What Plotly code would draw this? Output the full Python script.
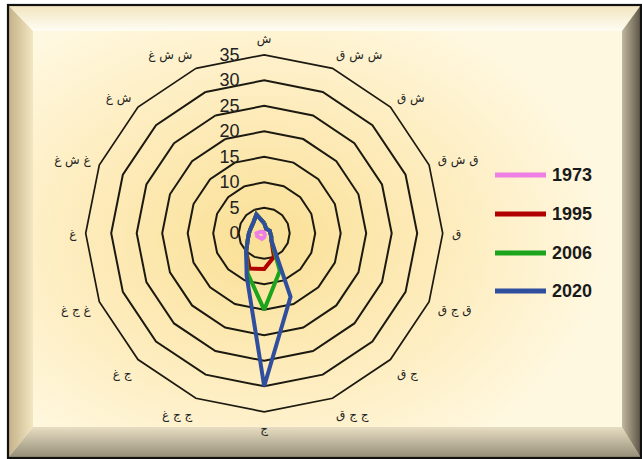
import base64
import plotly.graph_objects as go

# Sixteen compass directions (N first, clockwise)
directions = ["ش", "ش ش ق", "ش ق", "ق ش ق", "ق", "ق ج ق", "ج ق", "ج ج ق",
              "ج", "ج ج غ", "ج غ", "غ ج غ", "غ", "غ ش غ", "ش غ", "ش ش غ"]

years = ["1973", "1995", "2006", "2020"]
v1973 = [0, 0, 0, 0, 0, 0, 0, 0.3, 0.8, 1.2, 1.2, 1.5, 1.5, 0.8, 0.4, 0.3]
v1995 = [2, 1, 1, 1.2, 1.2, 1.5, 2, 5, 7, 7.5, 5, 3.5, 3, 2.8, 3, 4]
v2006 = [2, 1, 1, 1.2, 1.2, 1.5, 2, 8, 15, 8.5, 5, 3.5, 3, 2.8, 3, 4]
v2020 = [2, 1, 1, 1.2, 1.2, 1.5, 2, 13.5, 30, 9, 5, 3.5, 3, 2.8, 3, 4]
series = [v1973, v1995, v2006, v2020]
colors = ["#EE7FE4", "#B00000", "#1CA41C", "#2F4E9E"]

radial_ticks = [0, 5, 10, 15, 20, 25, 30, 35]

W, H = 642, 459
CX, CY, R = 264.2, 233.3, 178.5

# Bevelled parchment frame as an SVG background
svg = f"""<svg xmlns='http://www.w3.org/2000/svg' width='{W}' height='{H}' viewBox='0 0 {W} {H}'>
<defs>
<radialGradient id='bg' gradientUnits='userSpaceOnUse' cx='262' cy='240' r='300'
 gradientTransform='translate(262 240) scale(1.15 0.85) translate(-262 -240)'>
<stop offset='0' stop-color='#FAE095'/>
<stop offset='0.5' stop-color='#FDEBBA'/>
<stop offset='1' stop-color='#FFF8E0'/>
</radialGradient>
<linearGradient id='top' x1='0' y1='0' x2='0' y2='1'>
<stop offset='0' stop-color='#F1E4BE'/><stop offset='1' stop-color='#FFFDF4'/>
</linearGradient>
<linearGradient id='left' x1='0' y1='0' x2='1' y2='0'>
<stop offset='0' stop-color='#C2B087'/><stop offset='1' stop-color='#F3E6C0'/>
</linearGradient>
<linearGradient id='bot' x1='0' y1='0' x2='0' y2='1'>
<stop offset='0' stop-color='#E6DDC2'/><stop offset='1' stop-color='#958C77'/>
</linearGradient>
<linearGradient id='right' x1='0' y1='0' x2='1' y2='0'>
<stop offset='0' stop-color='#C2B89E'/><stop offset='1' stop-color='#5A5244'/>
</linearGradient>
</defs>
<rect x='0' y='0' width='{W}' height='{H}' fill='#FFFFFF'/>
<rect x='8' y='5' width='633' height='453' fill='url(#bg)'/>
<polygon points='8,5 641,5 622,31 33,31' fill='url(#top)'/>
<polygon points='8,5 33,31 33,427 8,458' fill='url(#left)'/>
<polygon points='8,458 33,427 622,427 641,458' fill='url(#bot)'/>
<polygon points='641,5 622,31 622,427 641,458' fill='url(#right)'/>
<rect x='8' y='5' width='633' height='453' fill='none' stroke='#111111' stroke-width='2.2'/>
</svg>"""
bg_uri = "data:image/svg+xml;base64," + base64.b64encode(svg.encode("utf-8")).decode("ascii")

fig = go.Figure()
for name, vals, col in zip(years, series, colors):
    fig.add_trace(go.Scatterpolar(
        r=vals + vals[:1],
        theta=directions + directions[:1],
        mode="lines",
        name=name,
        line=dict(color=col, width=4),
        showlegend=False,
    ))

grid = "#1C1A10"
fig.update_layout(
    width=W, height=H,
    margin=dict(l=0, r=0, t=0, b=0),
    paper_bgcolor="rgba(0,0,0,0)",
    plot_bgcolor="rgba(0,0,0,0)",
    images=[dict(source=bg_uri, xref="paper", yref="paper", x=0, y=1,
                 sizex=1, sizey=1, xanchor="left", yanchor="top",
                 sizing="stretch", layer="below")],
    polar=dict(
        domain=dict(x=[(CX - R) / W, (CX + R) / W],
                    y=[(H - CY - R) / H, (H - CY + R) / H]),
        bgcolor="rgba(0,0,0,0)",
        gridshape="linear",
        angularaxis=dict(
            type="category", categoryorder="array", categoryarray=directions,
            direction="clockwise", rotation=90,
            showgrid=False, showline=True, linecolor=grid, linewidth=1.7,
            ticks="outside", ticklen=6, tickcolor="rgba(0,0,0,0)",
            tickfont=dict(size=12, family="DejaVu Sans", color="#222222"),
        ),
        radialaxis=dict(
            range=[0, 35], tickmode="array", tickvals=radial_ticks,
            angle=90, tickangle=90, side="counterclockwise",
            showline=False, gridcolor=grid, gridwidth=1.7,
            ticks="outside", ticklen=18, tickcolor="rgba(0,0,0,0)",
            tickfont=dict(size=18, family="Liberation Sans", color="#222222"),
        ),
    ),
)

# Legend: line swatch + year label, one row per series
leg_x0, leg_x1 = 495, 546
leg_y = [175, 214, 253, 291]
for name, col, y in zip(years, colors, leg_y):
    fig.add_shape(type="line", xref="paper", yref="paper",
                  x0=leg_x0 / W, x1=leg_x1 / W, y0=1 - y / H, y1=1 - y / H,
                  line=dict(color=col, width=5))
    fig.add_annotation(x=(leg_x1 + 4) / W, y=1 - y / H, xref="paper", yref="paper",
                       text=f"<b>{name}</b>", showarrow=False, xanchor="left", yanchor="middle",
                       font=dict(size=18, family="Liberation Sans", color="#1A1A1A"))

fig.write_html("out.html")
